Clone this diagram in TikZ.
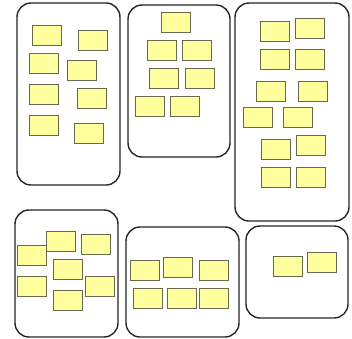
\documentclass[tikz,border=0pt]{standalone}
\definecolor{notefill}{RGB}{255,255,158}
\definecolor{noteline}{RGB}{105,105,80}
\begin{document}
\begin{tikzpicture}[x=1pt,y=-1pt,
  group/.style={draw=black!85, line width=1.4pt, rounded corners=14pt, inner sep=0pt, fill=white},
  note/.style={draw=noteline, fill=notefill, line width=1pt, inner sep=0pt, minimum width=29pt, minimum height=20pt}]
\useasboundingbox (0,0) rectangle (352,338);
% groups
\node[group, minimum width=103pt, minimum height=182pt] (g1) at (68.5,94) {};
\node[group, minimum width=102pt, minimum height=152pt] (g2) at (179,81) {};
\node[group, minimum width=114pt, minimum height=218pt] (g3) at (292,112) {};
\node[group, minimum width=103pt, minimum height=127pt] (g4) at (66.5,273.5) {};
\node[group, minimum width=113pt, minimum height=110pt] (g5) at (182.5,282) {};
\node[group, minimum width=102pt, minimum height=92pt] (g6) at (297,272) {};
% group 1 notes
\node[note] (a1) at (47,35.5) {};
\node[note] (a2) at (93,40) {};
\node[note] (a3) at (44,63.5) {};
\node[note] (a4) at (82,70) {};
\node[note] (a5) at (44,94.5) {};
\node[note] (a6) at (92,98.5) {};
\node[note] (a7) at (44,125) {};
\node[note] (a8) at (89,133.5) {};
% group 2 notes
\node[note] (b1) at (176,22) {};
\node[note] (b2) at (162,50) {};
\node[note] (b3) at (197,50) {};
\node[note] (b4) at (164,78) {};
\node[note] (b5) at (200,78) {};
\node[note] (b6) at (150,106.5) {};
\node[note] (b7) at (184.5,106.5) {};
% group 3 notes
\node[note] (c1) at (274.5,31.5) {};
\node[note] (c2) at (310,28) {};
\node[note] (c3) at (274.5,59.5) {};
\node[note] (c4) at (310,59.5) {};
\node[note] (c5) at (271,91) {};
\node[note] (c6) at (312.5,91.5) {};
\node[note] (c7) at (258,117.5) {};
\node[note] (c8) at (298,117.5) {};
\node[note] (c9) at (276,149) {};
\node[note] (c10) at (311,145.5) {};
\node[note] (c11) at (276,177.5) {};
\node[note] (c12) at (311,177.5) {};
% group 4 notes
\node[note] (d2) at (61,241.5) {};
\node[note] (d3) at (96,244.5) {};
\node[note] (d1) at (31.5,255) {};
\node[note] (d4) at (68,269) {};
\node[note] (d5) at (31.5,286.5) {};
\node[note] (d6) at (100,286.5) {};
\node[note] (d7) at (68,300.5) {};
% group 5 notes
\node[note] (e1) at (145,270) {};
\node[note] (e2) at (178,267) {};
\node[note] (e3) at (214,270) {};
\node[note] (e4) at (148,298.5) {};
\node[note] (e5) at (182,298.5) {};
\node[note] (e6) at (214,298.5) {};
% group 6 notes
\node[note] (f1) at (288,266) {};
\node[note] (f2) at (322,262.5) {};
\end{tikzpicture}
\end{document}
